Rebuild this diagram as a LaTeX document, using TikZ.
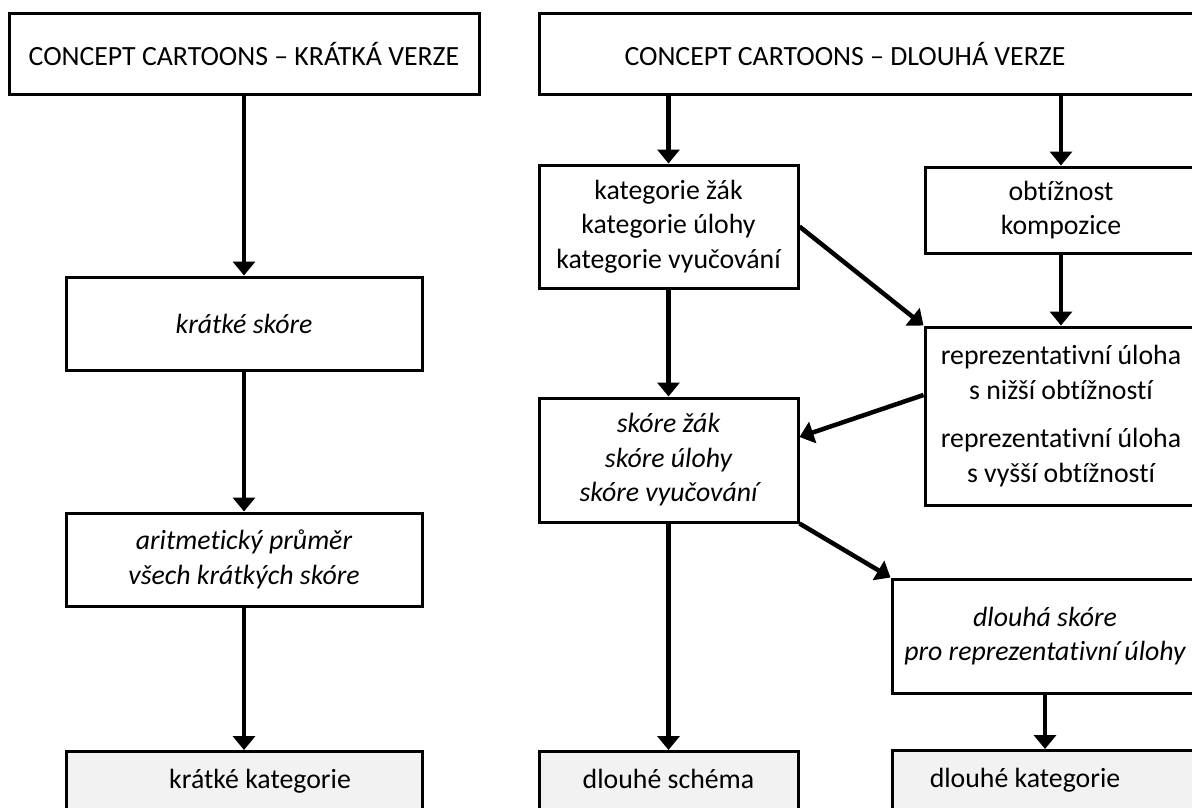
\documentclass[tikz,border=0pt]{standalone}
\usepackage{fontspec}
\setmainfont[Ligatures=NoCommon]{Carlito}
\usetikzlibrary{arrows.meta}

\tikzset{
  box/.style={draw, line width=3pt, inner sep=0pt, align=center, font=\fontsize{27.8}{34.5}\selectfont},
  itbox/.style={box, font=\fontsize{27.8}{34.5}\selectfont\itshape},
  endbox/.style={box, fill=black!5, anchor=north, text height=20pt, text depth=60pt, inner ysep=17pt},
  arr/.style={line width=4.5pt, -{Triangle[length=14pt,width=22pt]}}
}

\begin{document}
\begin{tikzpicture}[x=1pt,y=-1pt]
  \useasboundingbox (0,0) rectangle (1192,807);
  \clip (0,0) rectangle (1192,807);

  \node[box, minimum width=470pt, minimum height=81pt] (kratka) at (244,53.5) {CONCEPT CARTOONS – KRÁTKÁ VERZE};
  \node[itbox, minimum width=356pt, minimum height=93pt] (kskore) at (244,323.5) {krátké skóre};
  \node[itbox, minimum width=356pt, minimum height=93pt] (prumer) at (244,559.5) {aritmetický průměr\\všech krátkých skóre};
  \node[endbox, minimum width=356pt] (kkat) at (244,750) {\hspace*{32pt}krátké kategorie};

  \node[box, minimum width=711pt, minimum height=81pt] (dlouha) at (894.5,53.5) {CONCEPT CARTOONS – DLOUHÁ VERZE\hspace*{99pt}};
  \node[box, minimum width=259pt, minimum height=123pt] (kat) at (668.5,226.5) {kategorie žák\\kategorie úlohy\\kategorie vyučování};
  \node[box, minimum width=272pt, minimum height=86pt] (obt) at (1061,210) {obtížnost\\kompozice};
  \node[box, minimum width=272pt, minimum height=178pt] (repr) at (1061,416) {reprezentativní úloha\\s nižší obtížností\\[14pt]reprezentativní úloha\\s vyšší obtížností};
  \node[itbox, minimum width=259pt, minimum height=124pt] (skore) at (668.5,460) {skóre žák\\skóre úlohy\\skóre vyučování};
  \node[itbox, minimum width=306pt, minimum height=114pt] (dskore) at (1045,636) {dlouhá skóre\\pro reprezentativní úlohy};
  \node[endbox, minimum width=259pt] (schema) at (668.5,750) {dlouhé schéma};
  \node[endbox, minimum width=306pt] (dkat) at (1045,749) {dlouhé kategorie\hspace*{40pt}};

  \draw[arr] (kratka.south -| kskore.north) -- (kskore.north);
  \draw[arr] (kskore) -- (prumer);
  \draw[arr] (prumer) -- (kkat);

  \draw[arr] (dlouha.south -| kat.north) -- (kat.north);
  \draw[arr] (dlouha.south -| obt.north) -- (obt.north);
  \draw[arr] (obt) -- (repr);
  \draw[arr] (kat.east) -- (repr.north west);
  \draw[arr] (kat) -- (skore);
  \draw[arr] ([yshift=21pt]repr.west) -- ([yshift=23pt]skore.east);
  \draw[arr] (skore.south east) -- (dskore.north west);
  \draw[arr] (skore) -- (schema);
  \draw[arr] (dskore) -- (dkat);
\end{tikzpicture}
\end{document}
